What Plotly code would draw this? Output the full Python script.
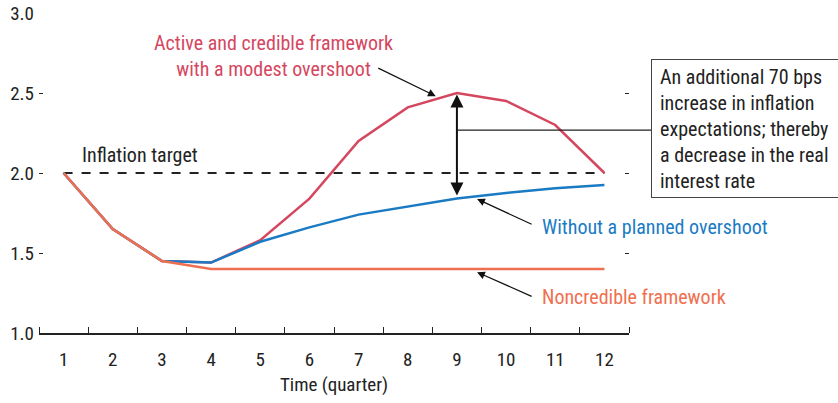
import plotly.graph_objects as go

quarters = list(range(1, 13))
active_credible = [2.0, 1.65, 1.45, 1.44, 1.58, 1.84, 2.20, 2.41, 2.50, 2.45, 2.30, 2.0]
no_overshoot = [2.0, 1.65, 1.45, 1.44, 1.57, 1.66, 1.74, 1.79, 1.84, 1.875, 1.905, 1.925]
noncredible = [2.0, 1.65, 1.45, 1.40, 1.40, 1.40, 1.40, 1.40, 1.40, 1.40, 1.40, 1.40]
target = [2.0] * 12
yticks = [1.0, 1.5, 2.0, 2.5, 3.0]

RED = "#D5475F"
BLUE = "#1A7BC4"
ORANGE = "#EF7050"
FONT = "Liberation Sans Narrow, Roboto Condensed, Arial Narrow, Liberation Sans, sans-serif"
FS = 20

fig = go.Figure()
fig.add_trace(go.Scatter(x=quarters, y=target, mode="lines",
                         line=dict(color="#222222", width=2, dash="dash"), hoverinfo="skip"))
fig.add_trace(go.Scatter(x=quarters, y=active_credible, mode="lines",
                         line=dict(color=RED, width=2.5)))
fig.add_trace(go.Scatter(x=quarters, y=no_overshoot, mode="lines",
                         line=dict(color=BLUE, width=2.5)))
fig.add_trace(go.Scatter(x=quarters, y=noncredible, mode="lines",
                         line=dict(color=ORANGE, width=2.5)))

annos = []
annos.append(dict(x=5.26, y=2.73, xref="x", yref="y", showarrow=False,
                  text="Active and credible framework<br>with a modest overshoot",
                  font=dict(color=RED, size=FS, family=FONT), align="center"))
annos.append(dict(x=8.57, y=2.48, ax=7.37, ay=2.66, xref="x", yref="y", axref="x", ayref="y",
                  text="", showarrow=True, arrowhead=2, arrowsize=1.3, arrowwidth=1.2, arrowcolor="#111111"))
annos.append(dict(x=1.33, y=2.11, xref="x", yref="y", showarrow=False, xanchor="left",
                  text="Inflation target", font=dict(color="#222222", size=FS, family=FONT)))
annos.append(dict(x=9, y=2.49, ax=9, ay=1.85, xref="x", yref="y", axref="x", ayref="y",
                  text="", showarrow=True, arrowhead=2, arrowside="end+start", arrowsize=1.3,
                  arrowwidth=2, arrowcolor="#111111"))
annos.append(dict(x=9.41, y=1.8375, ax=10.55, ay=1.675, xref="x", yref="y", axref="x", ayref="y",
                  text="", showarrow=True, arrowhead=2, arrowsize=1.3, arrowwidth=1.2, arrowcolor="#111111"))
annos.append(dict(x=10.69, y=1.66, xref="x", yref="y", showarrow=False, xanchor="left",
                  text="Without a planned overshoot", font=dict(color=BLUE, size=FS, family=FONT)))
annos.append(dict(x=9.41, y=1.38, ax=10.55, ay=1.225, xref="x", yref="y", axref="x", ayref="y",
                  text="", showarrow=True, arrowhead=2, arrowsize=1.3, arrowwidth=1.2, arrowcolor="#111111"))
annos.append(dict(x=10.69, y=1.225, xref="x", yref="y", showarrow=False, xanchor="left",
                  text="Noncredible framework", font=dict(color=ORANGE, size=FS, family=FONT)))
annos.append(dict(x=1.0373, y=0.855, xref="paper", yref="paper", showarrow=False,
                  xanchor="left", yanchor="top", align="left", valign="middle",
                  width=170, height=121, borderpad=8, bordercolor="#444444", borderwidth=1,
                  bgcolor="white",
                  text="An additional 70 bps<br>increase in inflation<br>expectations; thereby<br>a decrease in the real<br>interest rate",
                  font=dict(color="#222222", size=FS, family=FONT)))

fig.add_shape(type="line", xref="paper", yref="paper", x0=0.7083, x1=1.0373, y0=0.634, y1=0.634,
              line=dict(color="#222222", width=1.2))

fig.update_layout(
    width=838, height=403,
    margin=dict(l=39, r=209, t=13, b=70),
    paper_bgcolor="white", plot_bgcolor="white",
    showlegend=False,
    font=dict(family=FONT, size=FS, color="#222222"),
    annotations=annos,
    xaxis=dict(range=[0.5, 12.5], tickvals=quarters, ticktext=[str(q) for q in quarters],
               ticks="", showgrid=False, zeroline=False, showline=True, linecolor="#222222",
               linewidth=1.5, automargin=False, ticklabelstandoff=8,
               minor=dict(tickvals=[q - 0.5 for q in quarters] + [12.5], ticks="inside",
                          ticklen=6, tickcolor="#222222", tickwidth=1.2, showgrid=False),
               title=dict(text="Time (quarter)", font=dict(size=19), standoff=8),
               tickfont=dict(size=19)),
    yaxis=dict(range=[1, 3], tickvals=yticks, ticktext=[f"{v:.1f}" for v in yticks],
               ticks="inside", ticklen=4, tickcolor="#222222", tickwidth=1.2,
               mirror="ticks", showline=False, showgrid=False, zeroline=False,
               automargin=False, ticklabelstandoff=4,
               tickfont=dict(size=19)),
)

fig.write_html("out.html", config={"displayModeBar": False},
               post_script="document.body.style.margin='0';document.body.style.overflow='hidden';")
